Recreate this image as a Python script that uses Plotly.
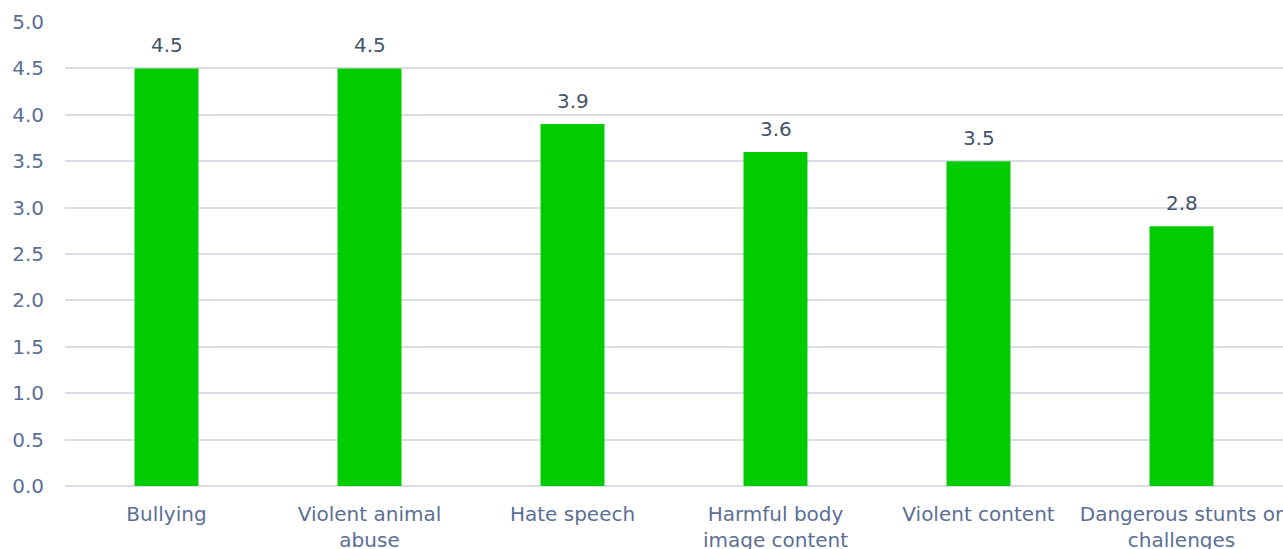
import plotly.graph_objects as go

categories = ["Bullying", "Violent animal<br>abuse", "Hate speech", "Harmful body<br>image content",
              "Violent content", "Dangerous stunts or<br>challenges"]
values = [4.5, 4.5, 3.9, 3.6, 3.5, 2.8]
y_ticks = [0, 0.5, 1, 1.5, 2, 2.5, 3, 3.5, 4, 4.5, 5]

FONT = "DejaVu Sans"
TEXT = "#44546A"
TICK = "#5B6F95"
GRID = "#D9DDE8"

fig = go.Figure()
fig.add_trace(go.Bar(
    x=categories, y=values,
    marker=dict(color="#00CC00", line=dict(width=0)),
    width=0.315,
    cliponaxis=False,
))
for c, v in zip(categories, values):
    fig.add_annotation(x=c, y=v, text=f"{v:.1f}", showarrow=False,
                       yanchor="bottom", yshift=9,
                       font=dict(family=FONT, size=20, color=TEXT))

fig.update_layout(
    width=1283, height=549,
    margin=dict(l=65, r=0, t=22, b=63),
    paper_bgcolor="white", plot_bgcolor="white",
    showlegend=False,
    font=dict(family=FONT, size=20, color=TICK),
)
fig.update_yaxes(
    range=[0, 5], tickvals=y_ticks, ticktext=[f"{v:.1f}" for v in y_ticks],
    showgrid=True, gridcolor=GRID, gridwidth=1.5,
    zeroline=True, zerolinecolor=GRID, zerolinewidth=1.5,
    showline=False, ticks="", ticklabelstandoff=20, automargin=False,
    tickfont=dict(family=FONT, size=20, color=TICK),
)
fig.update_xaxes(
    showgrid=False, showline=False, ticks="", automargin=False,
    tickfont=dict(family=FONT, size=20, color=TICK),
    tickangle=0, ticklabelstandoff=14,
)

fig.write_html("out.html")
